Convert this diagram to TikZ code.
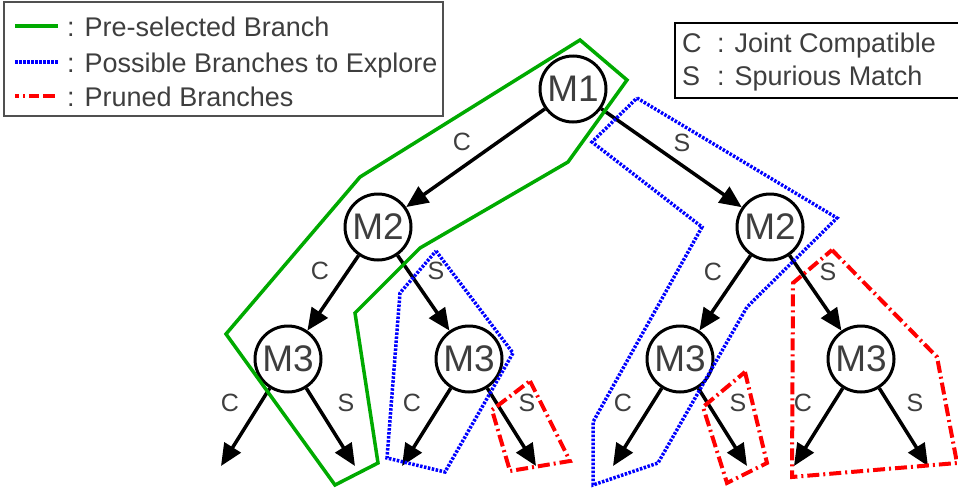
\documentclass[tikz,border=0pt]{standalone}
\usepackage{fontspec}
\setmainfont{Liberation Sans}
\usetikzlibrary{arrows.meta}
\definecolor{selgreen}{RGB}{0,170,0}
\definecolor{txtgray}{RGB}{62,62,62}
\definecolor{boxgray}{RGB}{80,80,80}

\begin{document}
\begin{tikzpicture}[x=1pt,y=-1pt,
  state/.style={circle,draw,line width=3pt,fill=white,minimum size=66pt,inner sep=0pt,
                font=\fontsize{37}{37}\selectfont,text=txtgray},
  edge/.style={line width=3.5pt,-{Triangle[length=22pt,width=19pt]}},
  elabel/.style={font=\fontsize{25}{25}\selectfont,text=txtgray,inner sep=0pt},
  legtext/.style={font=\fontsize{27}{27}\selectfont,text=txtgray,anchor=base west,inner sep=0pt},
  selected/.style={draw=selgreen,line width=3.5pt,line join=miter},
  possible/.style={draw=blue,line width=3.5pt,dash pattern=on 2.5pt off 1.5pt},
  pruned/.style={draw=red,line width=4pt,dash pattern=on 12pt off 4pt on 2pt off 4pt},
]
\useasboundingbox (0,0) rectangle (958,490);

% legend: branch kinds
\draw[boxgray,line width=1.5pt] (4,2) rectangle (443,116);
\coordinate (g1) at (15,26);  \coordinate (g2) at (58,26);
\coordinate (b1) at (15,62);  \coordinate (b2) at (58,62);
\coordinate (r1) at (15,96);  \coordinate (r2) at (58,96);
\draw[selected] (g1) -- (g2);
\draw[possible] (b1) -- (b2);
\draw[pruned,dash pattern=on 4pt off 4pt on 2pt off 4pt on 10pt off 4pt on 12pt off 4pt] (r1) -- (r2);
\node[legtext] (lg) at (67,36) {: Pre-selected Branch};
\node[legtext] (lb) at (67,72) {: Possible Branches to Explore};
\node[legtext] (lr) at (67,106) {: Pruned Branches};

% legend: edge labels
\draw[black,line width=1.5pt] (964,23) -- (675,23) -- (675,98) -- (964,98);
\node[legtext] (kc) at (682,52) {C};
\node[legtext] (kcd) at (717,52) {: Joint Compatible};
\node[legtext] (ks) at (682,85) {S};
\node[legtext] (ksd) at (717,85) {: Spurious Match};

% tree nodes
\node[state] (m1) at (573,89) {M1};
\node[state] (m2l) at (378,227) {M2};
\node[state] (m2r) at (770,227) {M2};
\node[state] (m3a) at (288,359) {M3};
\node[state] (m3b) at (469,359) {M3};
\node[state] (m3c) at (680,359) {M3};
\node[state] (m3d) at (861,359) {M3};

% open leaves
\coordinate (la1) at (221,466); \coordinate (la2) at (355,466);
\coordinate (lb1) at (402,466); \coordinate (lb2) at (536,466);
\coordinate (lc1) at (613,466); \coordinate (lc2) at (747,466);
\coordinate (ld1) at (794,466); \coordinate (ld2) at (928,466);

% edges
\draw[edge] (m1) -- (m2l);
\draw[edge] (m1) -- (m2r);
\draw[edge] (m2l) -- (m3a);
\draw[edge] (m2l) -- (m3b);
\draw[edge] (m2r) -- (m3c);
\draw[edge] (m2r) -- (m3d);
\draw[edge] (m3a) -- (la1);
\draw[edge] (m3a) -- (la2);
\draw[edge] (m3b) -- (lb1);
\draw[edge] (m3b) -- (lb2);
\draw[edge] (m3c) -- (lc1);
\draw[edge] (m3c) -- (lc2);
\draw[edge] (m3d) -- (ld1);
\draw[edge] (m3d) -- (ld2);

% edge labels
\node[elabel] (e1) at (462,142) {C};
\node[elabel] (e2) at (682,143) {S};
\node[elabel] (e3) at (320,271) {C};
\node[elabel] (e4) at (436,271) {S};
\node[elabel] (e5) at (713,272) {C};
\node[elabel] (e6) at (828,272) {S};
\node[elabel] (e7) at (230,403) {C};
\node[elabel] (e8) at (346,403) {S};
\node[elabel] (e9) at (412,403) {C};
\node[elabel] (e10) at (527,403) {S};
\node[elabel] (e11) at (623,403) {C};
\node[elabel] (e12) at (738,403) {S};
\node[elabel] (e13) at (803,403) {C};
\node[elabel] (e14) at (915,403) {S};

% pre-selected branch
\draw[selected] (580,40) -- (627,80) -- (568,162) -- (420,248) -- (355,313)
  -- (378,463) -- (335,485) -- (226,334) -- (360,177) -- cycle;

% branches still to explore
\draw[possible] (637,98) -- (837,218) -- (747,307) -- (658,463) -- (593,485)
  -- (593,422) -- (702,227) -- (592,142) -- cycle;
\draw[possible] (436,251) -- (513,353) -- (445,472) -- (387,458)
  -- (400,293) -- cycle;

% pruned branches
\draw[pruned] (530,381) -- (570,461) -- (510,471) -- (492,410) -- cycle;
\draw[pruned] (745,372) -- (767,463) -- (727,483) -- (703,407) -- cycle;
\draw[pruned] (832,250) -- (937,357) -- (957,463) -- (792,477) -- (793,283) -- cycle;
\end{tikzpicture}
\end{document}
